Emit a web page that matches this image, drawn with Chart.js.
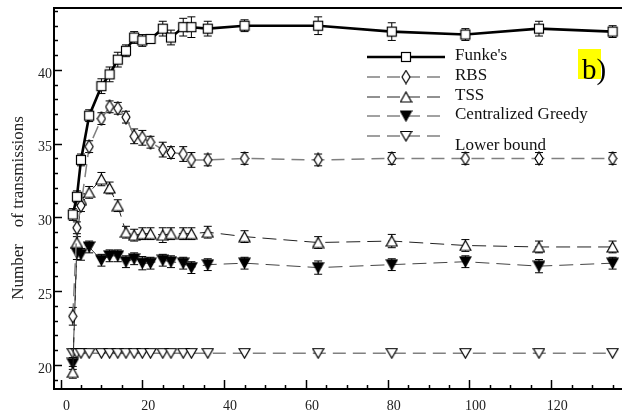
<!DOCTYPE html>
<html>
<head>
<meta charset="utf-8">
<script src="https://cdn.jsdelivr.net/npm/chart.js@4.4.1/dist/chart.umd.min.js"></script>
<style>
  html, body { margin: 0; padding: 0; background: #fff; }
  #wrap { width: 622px; height: 411px; position: relative; }
</style>
</head>
<body>
<div id="wrap"><canvas id="transChart" width="622" height="411"></canvas></div>
<script>
// network size on the x axis
const xValues = [3, 4, 5, 7, 10, 12, 14, 16, 18, 20, 22, 25, 27, 30, 32, 36, 45, 63, 81, 99, 117, 135];

const funke     = [30.2, 31.4, 33.9, 36.9, 38.9, 39.7, 40.7, 41.3, 42.2, 42.0, 42.1, 42.8, 42.2, 42.9, 42.9, 42.8, 43.0, 43.0, 42.6, 42.4, 42.8, 42.6];
const funkeErr  = [0.4, 0.4, 0.4, 0.4, 0.5, 0.5, 0.5, 0.4, 0.4, 0.4, 0.3, 0.5, 0.5, 0.6, 0.7, 0.5, 0.4, 0.6, 0.6, 0.4, 0.5, 0.4];
const rbs       = [23.3, 29.3, 30.8, 34.8, 36.7, 37.5, 37.4, 36.8, 35.5, 35.4, 35.1, 34.6, 34.4, 34.3, 33.9, 33.9, 34.0, 33.9, 34.0, 34.0, 34.0, 34.0];
const rbsErr    = [0.6, 0.4, 0.4, 0.4, 0.4, 0.4, 0.4, 0.4, 0.5, 0.5, 0.4, 0.5, 0.4, 0.5, 0.5, 0.4, 0.4, 0.4, 0.4, 0.4, 0.4, 0.4];
const tss       = [19.5, 28.3, 31.2, 31.7, 32.6, 32.0, 30.8, 29.0, 28.8, 28.9, 28.9, 28.8, 28.9, 28.9, 28.9, 29.0, 28.7, 28.3, 28.4, 28.1, 28.0, 28.0];
const tssErr    = [0.4, 0.4, 0.4, 0.4, 0.45, 0.4, 0.4, 0.4, 0.4, 0.4, 0.4, 0.5, 0.4, 0.4, 0.4, 0.4, 0.4, 0.4, 0.45, 0.4, 0.4, 0.4];
const greedy    = [20.1, 27.6, 27.5, 28.0, 27.1, 27.4, 27.4, 27.0, 27.2, 26.9, 26.9, 27.1, 27.0, 26.9, 26.6, 26.8, 26.9, 26.6, 26.8, 27.0, 26.7, 26.9];
const greedyErr = [0.4, 0.45, 0.4, 0.4, 0.4, 0.4, 0.4, 0.4, 0.4, 0.45, 0.4, 0.4, 0.4, 0.4, 0.4, 0.4, 0.4, 0.45, 0.4, 0.4, 0.45, 0.4];
const lowerBound = [20.8, 20.8, 20.8, 20.8, 20.8, 20.8, 20.8, 20.8, 20.8, 20.8, 20.8, 20.8, 20.8, 20.8, 20.8, 20.8, 20.8, 20.8, 20.8, 20.8, 20.8, 20.8];

const seriesNames = ["Funke's", 'RBS', 'TSS', 'Centralized Greedy', 'Lower bound'];
const xTicks = [0, 20, 40, 60, 80, 100, 120];
const yTicks = [20, 25, 30, 35, 40];

const serif = '"Liberation Serif", "Times New Roman", serif';

// marker images
function marker(w, h, draw) {
    const c = document.createElement('canvas');
    c.width = w;
    c.height = h;
    const g = c.getContext('2d');
    g.lineWidth = 1.2;
    g.strokeStyle = '#000';
    g.fillStyle = '#fff';
    draw(g, w, h);
    return c;
}
const squareImg = marker(12, 12, (g, w, h) => {
    g.fillRect(1, 1, 10, 10);
    g.strokeRect(1.5, 1.5, 9, 9);
});
const diamondImg = marker(10, 15, (g, w, h) => {
    g.beginPath();
    g.moveTo(5, 1); g.lineTo(9, 7.5); g.lineTo(5, 14); g.lineTo(1, 7.5); g.closePath();
    g.fill(); g.stroke();
});
const triUpImg = marker(13, 12, (g, w, h) => {
    g.beginPath();
    g.moveTo(6.5, 1); g.lineTo(12, 11); g.lineTo(1, 11); g.closePath();
    g.fill(); g.stroke();
});
const triDownFilledImg = marker(13, 12, (g, w, h) => {
    g.fillStyle = '#000';
    g.beginPath();
    g.moveTo(1, 1); g.lineTo(12, 1); g.lineTo(6.5, 11); g.closePath();
    g.fill(); g.stroke();
});
const triDownImg = marker(13, 12, (g, w, h) => {
    g.beginPath();
    g.moveTo(1, 1.5); g.lineTo(12, 1.5); g.lineTo(6.5, 11); g.closePath();
    g.fill(); g.stroke();
});

function toPoints(ys) {
    return xValues.map((x, i) => ({ x: x, y: ys[i] }));
}

const styles = [
    { color: '#000', width: 2.6, dash: [], img: squareImg, err: funkeErr },
    { color: '#808080', width: 1.5, dash: [13, 7], img: diamondImg, err: rbsErr },
    { color: '#222', width: 1, dash: [14, 7], img: triUpImg, err: tssErr },
    { color: '#444', width: 1, dash: [14, 7], img: triDownFilledImg, err: greedyErr },
    { color: '#808080', width: 1.5, dash: [13, 7], img: triDownImg, err: null }
];
const allSeries = [funke, rbs, tss, greedy, lowerBound];

const datasets = allSeries.map((ys, i) => ({
    label: seriesNames[i],
    data: toPoints(ys),
    borderColor: styles[i].color,
    borderWidth: styles[i].width,
    borderDash: styles[i].dash,
    pointStyle: styles[i].img,
    pointRadius: 5,
    tension: 0,
    fill: false
}));

// tick marks pointing into the plot, plus the top frame line
const axisDecor = {
    id: 'axisDecor',
    afterDraw(chart) {
        const { ctx, chartArea: a, scales: { x, y } } = chart;
        ctx.save();
        ctx.strokeStyle = '#000';
        ctx.lineWidth = 1.5;
        for (let v = 0; v <= 135; v += 5) {
            const px = Math.round(x.getPixelForValue(v)) + 0.5;
            const len = v % 20 === 0 ? 9 : 4;
            ctx.beginPath();
            ctx.moveTo(px, a.bottom);
            ctx.lineTo(px, a.bottom - len);
            ctx.stroke();
        }
        for (let v = 19; v <= 44; v += 1) {
            const py = Math.round(y.getPixelForValue(v)) + 0.5;
            const len = v % 5 === 0 ? 8 : 4;
            ctx.beginPath();
            ctx.moveTo(a.left, py);
            ctx.lineTo(a.left + len, py);
            ctx.stroke();
        }
        ctx.lineWidth = 2;
        ctx.beginPath();
        ctx.moveTo(a.left, a.top);
        ctx.lineTo(a.right, a.top);
        ctx.stroke();
        ctx.restore();
    }
};

// error bars sit under the markers, only the caps poke out
const errorBars = {
    id: 'errorBars',
    beforeDatasetsDraw(chart) {
        const { ctx, scales: { x, y } } = chart;
        ctx.save();
        ctx.strokeStyle = '#000';
        ctx.lineWidth = 1;
        allSeries.forEach((ys, i) => {
            const err = styles[i].err;
            if (!err) return;
            ys.forEach((v, j) => {
                const px = x.getPixelForValue(xValues[j]);
                const top = y.getPixelForValue(v + err[j]);
                const bot = y.getPixelForValue(v - err[j]);
                ctx.beginPath();
                ctx.moveTo(px, top); ctx.lineTo(px, bot);
                ctx.moveTo(px - 4, top); ctx.lineTo(px + 4, top);
                ctx.moveTo(px - 4, bot); ctx.lineTo(px + 4, bot);
                ctx.stroke();
            });
        });
        ctx.restore();
    }
};

// legend box, panel tag and y title
const annotations = {
    id: 'annotations',
    afterDraw(chart) {
        const ctx = chart.ctx;
        ctx.save();
        const rows = [57, 77, 97, 116, 136];
        const textY = [56, 76, 96, 115, 146];
        rows.forEach((ry, i) => {
            const s = styles[i];
            ctx.strokeStyle = s.color;
            ctx.lineWidth = s.width;
            ctx.setLineDash(s.dash.length ? [13, 7] : []);
            ctx.beginPath();
            ctx.moveTo(367, ry);
            ctx.lineTo(445, ry);
            ctx.stroke();
            ctx.setLineDash([]);
            ctx.drawImage(s.img, 406 - s.img.width / 2, ry - s.img.height / 2);
            ctx.fillStyle = '#111';
            ctx.font = '17px ' + serif;
            ctx.textBaseline = 'middle';
            ctx.textAlign = 'left';
            ctx.fillText(seriesNames[i], 455, textY[i]);
        });

        ctx.fillStyle = '#ffff00';
        ctx.fillRect(578, 49, 23, 30);
        ctx.fillStyle = '#000';
        ctx.font = '29px ' + serif;
        ctx.textBaseline = 'alphabetic';
        ctx.fillText('b)', 582, 79);

        ctx.translate(19, 208);
        ctx.rotate(-Math.PI / 2);
        ctx.font = '17px ' + serif;
        ctx.textAlign = 'center';
        ctx.textBaseline = 'middle';
        ctx.fillStyle = '#222';
        ctx.fillText('Number    of transmissions', 0, 0);
        ctx.restore();
    }
};

new Chart(document.getElementById('transChart').getContext('2d'), {
    type: 'line',
    data: { datasets: datasets },
    options: {
        responsive: false,
        animation: false,
        layout: { autoPadding: false, padding: { top: 8, right: 0, left: 0, bottom: 0 } },
        plugins: {
            legend: { display: false },
            tooltip: { enabled: false }
        },
        scales: {
            x: {
                type: 'linear',
                min: -1.6,
                max: 137.3,
                grid: { display: false, drawTicks: false },
                border: { color: '#000', width: 2 },
                ticks: {
                    color: '#222',
                    font: { family: serif, size: 14 },
                    padding: 9,
                    labelOffset: 6,
                    maxRotation: 0
                },
                afterBuildTicks: scale => { scale.ticks = xTicks.map(v => ({ value: v })); },
                afterFit: scale => {
                    scale.height = 22;
                    scale.paddingLeft = 0;
                    scale.paddingRight = 0;
                }
            },
            y: {
                min: 18.37,
                max: 44.2,
                grid: { display: false, drawTicks: false },
                border: { color: '#000', width: 2 },
                ticks: {
                    color: '#222',
                    font: { family: serif, size: 14 },
                    padding: 2,
                    labelOffset: 4
                },
                afterBuildTicks: scale => { scale.ticks = yTicks.map(v => ({ value: v })); },
                afterFit: scale => {
                    scale.width = 54;
                    scale.paddingTop = 0;
                    scale.paddingBottom = 0;
                }
            }
        }
    },
    plugins: [axisDecor, errorBars, annotations]
});
</script>
</body>
</html>
